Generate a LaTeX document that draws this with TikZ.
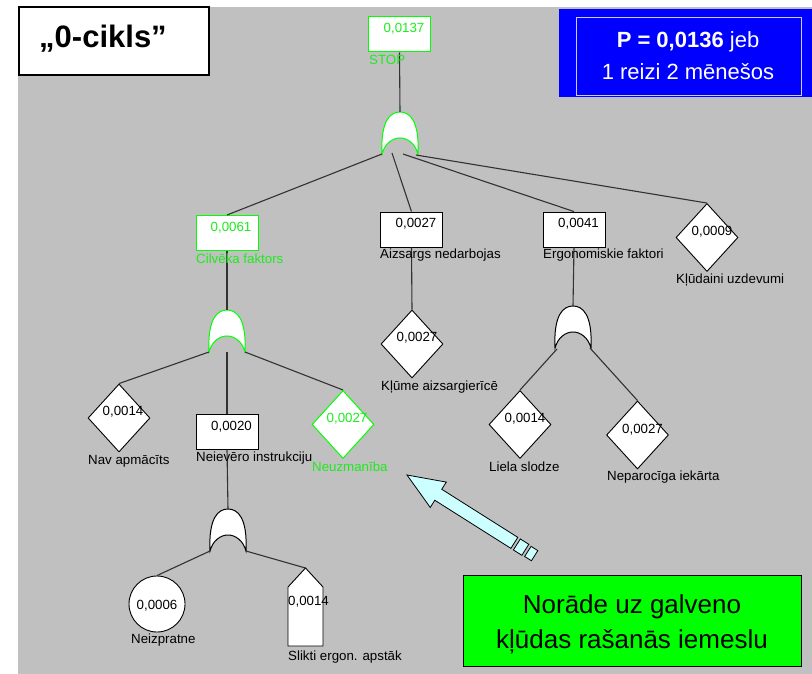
\documentclass[tikz,border=0pt]{standalone}
\usepackage{fontspec}
\setmainfont{Liberation Sans}
\usetikzlibrary{shapes.geometric}
\definecolor{bg}{RGB}{192,192,192}
\definecolor{fgreen}{RGB}{0,255,0}
\definecolor{tgreen}{RGB}{30,235,30}
\definecolor{wire}{RGB}{50,50,50}
\definecolor{pblue}{RGB}{0,0,255}
\definecolor{acyan}{RGB}{204,255,255}
\definecolor{inframe}{RGB}{205,205,235}

\newcommand\drawORgate[4]{%
  \coordinate (#1) at (#2,#3);
  \draw[#4, fill=white, line width=1pt, shift={(#2,#3)}]
    (-18,42) .. controls (-19.5,9) and (-10,0) .. (0,0)
    .. controls (10,0) and (19.5,9) .. (18,42)
    .. controls (15,31) and (7,26) .. (0,26)
    .. controls (-7,26) and (-15,31) .. (-18,42) -- cycle;
}

\begin{document}
\begin{tikzpicture}[x=1pt, y=-1pt,
  every node/.style={font=\fontsize{13.3}{15}\selectfont},
  box/.style={draw=black, fill=white, rectangle, minimum width=62pt, minimum height=35pt, inner sep=0pt, line width=0.9pt},
  gbox/.style={box, draw=fgreen, line width=1pt},
  dia/.style={draw=black, fill=white, diamond, minimum width=62pt, minimum height=68pt, inner sep=0pt, line width=0.9pt},
  gdia/.style={dia, draw=fgreen, line width=1pt},
  num/.style={inner sep=0pt, text=black},
  gnum/.style={num, text=tgreen},
  lbl/.style={anchor=west, inner sep=0pt, text=black},
  glbl/.style={lbl, text=tgreen},
  conn/.style={draw=wire, line width=1.1pt}]

\useasboundingbox (0,0) rectangle (812,674);
\fill[white] (0,0) rectangle (812,674);
\fill[bg] (18,7) rectangle (812,674);

% title
\node[draw=black, fill=white, line width=1.3pt, minimum width=190pt, minimum height=68pt, inner sep=0pt] (titlebox) at (114,41) {};
\node[inner sep=0pt, font=\bfseries\fontsize{31}{34}\selectfont] (title) at (103,39) {„0-cikls”};

% probability box
\node[fill=pblue, minimum width=253pt, minimum height=88pt, inner sep=0pt, anchor=north west] (pbox) at (559,9) {};
\draw[inframe, line width=0.8pt] (576,17) rectangle (801,95);
\node[text=white, align=center, inner sep=0pt, font=\fontsize{22}{32}\selectfont] (ptext) at (688,56) {\textbf{P = 0,0136} jeb\\1 reizi 2 mēnešos};

% boxes
\node[gbox] (stop) at (399.5,34.5) {};
\node[gbox] (cil) at (227,233) {};
\node[box] (aiz) at (411.5,229.5) {};
\node[box] (erg) at (574,229.5) {};
\node[box] (neiev) at (227,431.5) {};

% diamonds
\node[dia] (kludu) at (707,237.5) {};
\node[dia] (klume) at (412,344) {};
\node[dia] (nav) at (119,418) {};
\node[gdia] (neuz) at (343,424.5) {};
\node[dia] (liela) at (520,424.5) {};
\node[dia] (nepar) at (637.5,435) {};

% circle
\node[draw=black, fill=white, circle, minimum size=56pt, inner sep=0pt, line width=0.9pt] (neizp) at (157,604) {};

% house
\draw[fill=white, draw=black, line width=0.9pt] (288,587) -- (305.5,568) -- (323,587) -- (323,646) -- (288,646) -- cycle;
\coordinate (house) at (305.5,568);

% gates
\drawORgate{g1}{400}{112}{fgreen}
\drawORgate{g2}{227}{310}{fgreen}
\drawORgate{g3}{573}{306}{black}
\drawORgate{g4}{228}{509}{black}

% connectors
\draw[conn] (stop.south) -- (g1);
\draw[conn] ([shift={(-18,42)}]g1) -- (cil.north);
\draw[conn] ([shift={(-8,41)}]g1) -- (aiz.north);
\draw[conn] ([shift={(3,42)}]g1) -- (erg.north);
\draw[conn] ([shift={(16,43)}]g1) -- (kludu.north);
\draw[conn] (cil.south) -- (g2);
\draw[conn] ([shift={(-18,42)}]g2) -- (nav.north);
\draw[conn] ([shift={(0,42)}]g2) -- (neiev.north);
\draw[conn] ([shift={(18,42)}]g2) -- (neuz.north);
\draw[conn] (aiz.south) -- (klume.north);
\draw[conn] (erg.south) -- (g3);
\draw[conn] ([shift={(-16,43)}]g3) -- (liela.north);
\draw[conn] ([shift={(17,42)}]g3) -- (nepar.north);
\draw[conn] (neiev.south) -- (g4);
\draw[conn] ([shift={(-18,42)}]g4) -- (neizp.north);
\draw[conn] ([shift={(18,42)}]g4) -- (house);

% numbers
\node[gnum] (stop-n) at ([shift={(4.5,-5.5)}]stop.center) {0,0137};
\node[gnum] (cil-n) at ([shift={(4,-5)}]cil.center) {0,0061};
\node[num] (aiz-n) at ([shift={(4.5,-6)}]aiz.center) {0,0027};
\node[num] (erg-n) at ([shift={(4.5,-6)}]erg.center) {0,0041};
\node[num] (neiev-n) at ([shift={(4.5,-5)}]neiev.center) {0,0020};
\node[num] (kludu-n) at ([shift={(5,-6)}]kludu.center) {0,0009};
\node[num] (klume-n) at ([shift={(5,-6)}]klume.center) {0,0027};
\node[num] (nav-n) at ([shift={(4,-6)}]nav.center) {0,0014};
\node[gnum] (neuz-n) at ([shift={(4,-6)}]neuz.center) {0,0027};
\node[num] (liela-n) at ([shift={(5,-6)}]liela.center) {0,0014};
\node[num] (nepar-n) at ([shift={(5,-5)}]nepar.center) {0,0027};
\node[num] (neizp-n) at ([shift={(0,2)}]neizp.center) {0,0006};
\node[num, anchor=west] (house-n) at (288,602) {0,0014};

% labels
\node[glbl] (stop-l) at (369,60) {STOP};
\node[glbl] (cil-l) at (196,259) {Cilvēka faktors};
\node[lbl] (aiz-l) at (380,255) {Aizsargs nedarbojas};
\node[lbl] (erg-l) at (543,255) {Ergonomiskie faktori};
\node[lbl] (kludu-l) at (676,280) {Kļūdaini uzdevumi};
\node[lbl] (klume-l) at (381,387) {Kļūme aizsargierīcē};
\node[lbl] (nav-l) at (88,461) {Nav apmācīts};
\node[lbl] (neiev-l) at (196,458) {Neievēro instrukciju};
\node[glbl] (neuz-l) at (312,467) {Neuzmanība};
\node[lbl] (liela-l) at (489,467) {Liela slodze};
\node[lbl] (nepar-l) at (607,477) {Neparocīga iekārta};
\node[lbl] (neizp-l) at (131,640) {Neizpratne};
\node[lbl] (house-l) at (288,657) {Slikti ergon. apstāk};

% pointer arrow
\begin{scope}[shift={(407,475)}, rotate=-32.3]
  \draw[fill=acyan, draw=black, line width=0.8pt] (0,0) -- (37,-15) -- (37,-6.5) -- (127,-6.5) -- (127,6.5) -- (37,6.5) -- (37,15) -- cycle;
  \draw[fill=acyan, draw=black, line width=0.8pt] (130,-6.5) rectangle (140,6.5);
  \draw[fill=acyan, draw=black, line width=0.8pt] (143,-6) rectangle (151,6);
\end{scope}

% note box
\node[fill=fgreen, draw=black, line width=1.3pt, minimum width=338pt, minimum height=91pt, inner sep=0pt, anchor=north west] (note) at (463,575) {};
\node[align=center, inner sep=0pt, font=\fontsize{26}{35}\selectfont] (notetext) at (632,624) {Norāde uz galveno\\kļūdas rašanās iemeslu};

\end{tikzpicture}
\end{document}
